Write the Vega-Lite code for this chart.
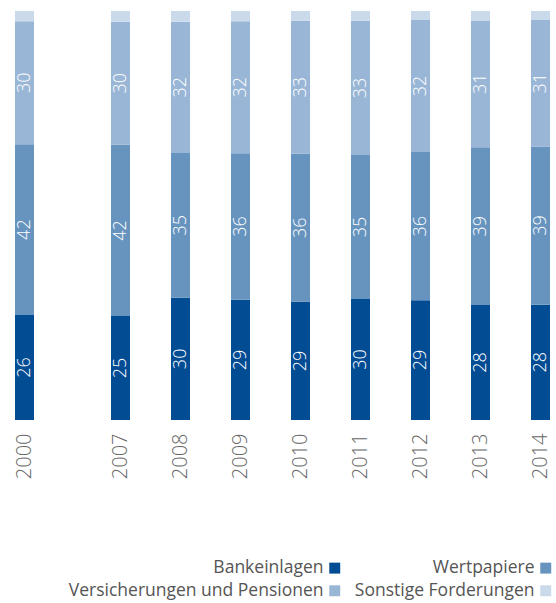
{
  "$schema": "https://vega.github.io/schema/vega-lite/v6.json",
  "width": 556,
  "height": 409,
  "autosize": "none",
  "padding": {"top": 11, "left": 0, "right": 0, "bottom": 183},
  "background": "white",
  "config": {"view": {"stroke": null}, "font": "Open Sans"},
  "data": {
    "values": [
      {"year": 2000, "series": "Bankeinlagen", "k": 1, "value": 25.7},
      {"year": 2000, "series": "Wertpapiere", "k": 2, "value": 41.7},
      {"year": 2000, "series": "Versicherungen und Pensionen", "k": 3, "value": 30.1},
      {"year": 2000, "series": "Sonstige Forderungen", "k": 4, "value": 2.5},
      {"year": 2007, "series": "Bankeinlagen", "k": 1, "value": 25.4},
      {"year": 2007, "series": "Wertpapiere", "k": 2, "value": 41.9},
      {"year": 2007, "series": "Versicherungen und Pensionen", "k": 3, "value": 30.1},
      {"year": 2007, "series": "Sonstige Forderungen", "k": 4, "value": 2.6},
      {"year": 2008, "series": "Bankeinlagen", "k": 1, "value": 29.9},
      {"year": 2008, "series": "Wertpapiere", "k": 2, "value": 35.4},
      {"year": 2008, "series": "Versicherungen und Pensionen", "k": 3, "value": 32.1},
      {"year": 2008, "series": "Sonstige Forderungen", "k": 4, "value": 2.6},
      {"year": 2009, "series": "Bankeinlagen", "k": 1, "value": 29.4},
      {"year": 2009, "series": "Wertpapiere", "k": 2, "value": 35.8},
      {"year": 2009, "series": "Versicherungen und Pensionen", "k": 3, "value": 32.3},
      {"year": 2009, "series": "Sonstige Forderungen", "k": 4, "value": 2.5},
      {"year": 2010, "series": "Bankeinlagen", "k": 1, "value": 28.9},
      {"year": 2010, "series": "Wertpapiere", "k": 2, "value": 36.2},
      {"year": 2010, "series": "Versicherungen und Pensionen", "k": 3, "value": 32.5},
      {"year": 2010, "series": "Sonstige Forderungen", "k": 4, "value": 2.4},
      {"year": 2011, "series": "Bankeinlagen", "k": 1, "value": 29.6},
      {"year": 2011, "series": "Wertpapiere", "k": 2, "value": 35.2},
      {"year": 2011, "series": "Versicherungen und Pensionen", "k": 3, "value": 32.8},
      {"year": 2011, "series": "Sonstige Forderungen", "k": 4, "value": 2.4},
      {"year": 2012, "series": "Bankeinlagen", "k": 1, "value": 29.3},
      {"year": 2012, "series": "Wertpapiere", "k": 2, "value": 36.2},
      {"year": 2012, "series": "Versicherungen und Pensionen", "k": 3, "value": 32.3},
      {"year": 2012, "series": "Sonstige Forderungen", "k": 4, "value": 2.2},
      {"year": 2013, "series": "Bankeinlagen", "k": 1, "value": 28.1},
      {"year": 2013, "series": "Wertpapiere", "k": 2, "value": 38.6},
      {"year": 2013, "series": "Versicherungen und Pensionen", "k": 3, "value": 31.0},
      {"year": 2013, "series": "Sonstige Forderungen", "k": 4, "value": 2.3},
      {"year": 2014, "series": "Bankeinlagen", "k": 1, "value": 28.2},
      {"year": 2014, "series": "Wertpapiere", "k": 2, "value": 38.7},
      {"year": 2014, "series": "Versicherungen und Pensionen", "k": 3, "value": 30.9},
      {"year": 2014, "series": "Sonstige Forderungen", "k": 4, "value": 2.2}
    ]
  },
  "layer": [
    {
      "mark": {"type": "bar", "width": 19},
      "encoding": {
        "x": {
          "field": "year",
          "type": "quantitative",
          "scale": {"domain": [2000, 2007, 2014], "range": [24.5, 120.5, 540.5], "zero": false, "nice": false, "padding": 0},
          "axis": {
            "values": [2000, 2007, 2008, 2009, 2010, 2011, 2012, 2013, 2014],
            "format": "d",
            "labelAngle": -90,
            "labelAlign": "right",
            "labelBaseline": "middle",
            "labelFontSize": 20,
            "labelFont": "Open Sans",
            "labelFontWeight": 300,
            "labelColor": "#666666",
            "ticks": false,
            "domain": false,
            "grid": false,
            "title": null,
            "labelPadding": 13
          }
        },
        "y": {
          "field": "value",
          "type": "quantitative",
          "stack": "zero",
          "scale": {"domain": [0, 100], "nice": false},
          "axis": null
        },
        "color": {
          "field": "series",
          "type": "nominal",
          "scale": {
            "domain": ["Bankeinlagen", "Wertpapiere", "Versicherungen und Pensionen", "Sonstige Forderungen"],
            "range": ["#024c94", "#6794be", "#9ab6d6", "#cbdaea"]
          },
          "legend": {
            "title": null,
            "orient": "none",
            "legendX": 326,
            "legendY": 548,
            "direction": "horizontal",
            "columns": 2,
            "symbolType": "square",
            "symbolSize": 120,
            "labelFontSize": 17.5,
            "labelFont": "Open Sans",
            "labelColor": "#555555",
            "labelAlign": "right",
            "labelOffset": -20,
            "columnPadding": 13,
            "rowPadding": 4,
            "labelLimit": 400
          }
        },
        "order": {"field": "k", "type": "quantitative"}
      }
    },
    {
      "transform": [{"filter": "datum.k < 4"}],
      "mark": {"type": "text", "angle": 270, "color": "white", "fontSize": 18, "font": "Open Sans", "fontWeight": 300, "baseline": "middle", "align": "center"},
      "encoding": {
        "x": {"field": "year", "type": "quantitative"},
        "y": {"field": "value", "type": "quantitative", "stack": "zero", "bandPosition": 0.5},
        "detail": {"field": "series"},
        "order": {"field": "k", "type": "quantitative"},
        "text": {"field": "value", "type": "quantitative", "format": ".0f"}
      }
    }
  ]
}
